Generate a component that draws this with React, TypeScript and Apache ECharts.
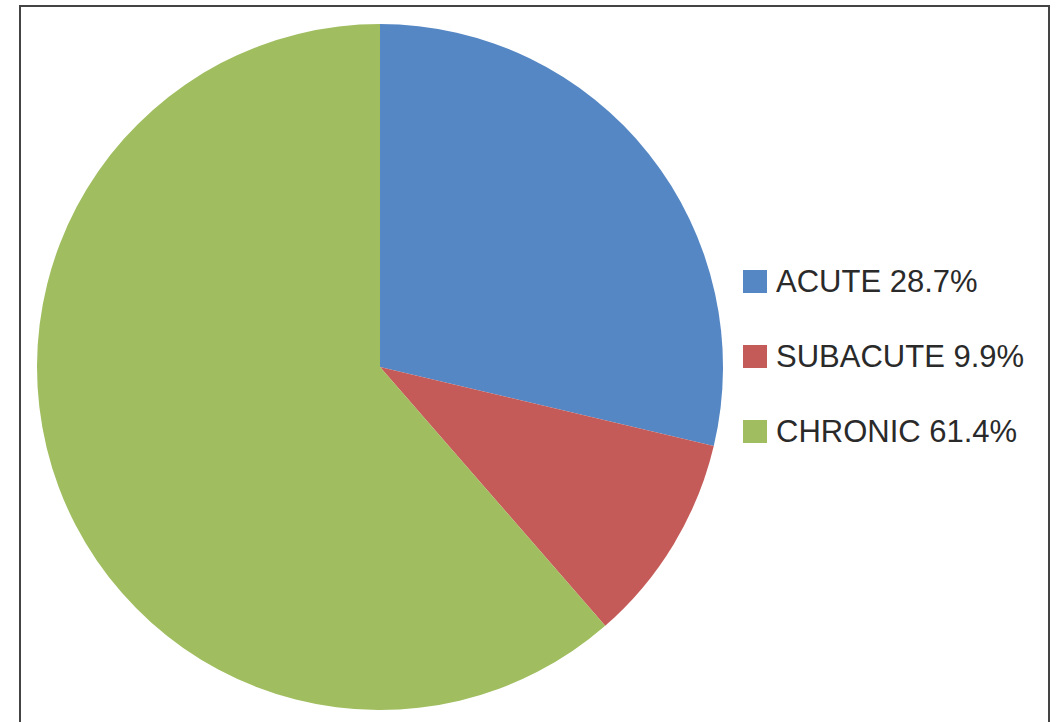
import React, { useEffect, useRef } from "react";
import * as echarts from "echarts";

const categories = ["ACUTE", "SUBACUTE", "CHRONIC"];
const values = [28.7, 9.9, 61.4];
const colors = ["#5587C4", "#C55B58", "#A0BE60"];

export default function App() {
  const ref = useRef<HTMLDivElement>(null);
  useEffect(() => {
    document.body.style.margin = "0";
    const chart = echarts.init(ref.current!, null, { renderer: "svg" });
    const data = categories.map((name, i) => ({
      name,
      value: values[i],
      itemStyle: { color: colors[i] },
    }));
    chart.setOption({
      animation: false,
      backgroundColor: "#ffffff",
      graphic: [
        {
          type: "rect",
          shape: { x: 20, y: 6, width: 1029, height: 740 },
          style: { fill: "none", stroke: "#444444", lineWidth: 2 },
          silent: true,
        },
      ],
      legend: {
        orient: "vertical",
        left: 743,
        top: 266,
        padding: 0,
        itemWidth: 24,
        itemHeight: 23,
        itemGap: 44,
        icon: "rect",
        selectedMode: false,
        data: categories,
        formatter: (name: string) => {
          const i = categories.indexOf(name);
          return name + " " + values[i].toFixed(1) + "%";
        },
        textStyle: {
          fontFamily: "Liberation Sans, Arial, sans-serif",
          fontSize: 31,
          color: "#2a2a2a",
          padding: [0, 0, 0, 4],
        },
      },
      series: [
        {
          type: "pie",
          center: [380, 367],
          radius: 343,
          startAngle: 90,
          clockwise: true,
          silent: true,
          label: { show: false },
          labelLine: { show: false },
          itemStyle: { borderWidth: 0 },
          emphasis: { disabled: true },
          data,
        },
      ],
    });
    return () => chart.dispose();
  }, []);
  return <div ref={ref} style={{ width: 1058, height: 722 }} />;
}
